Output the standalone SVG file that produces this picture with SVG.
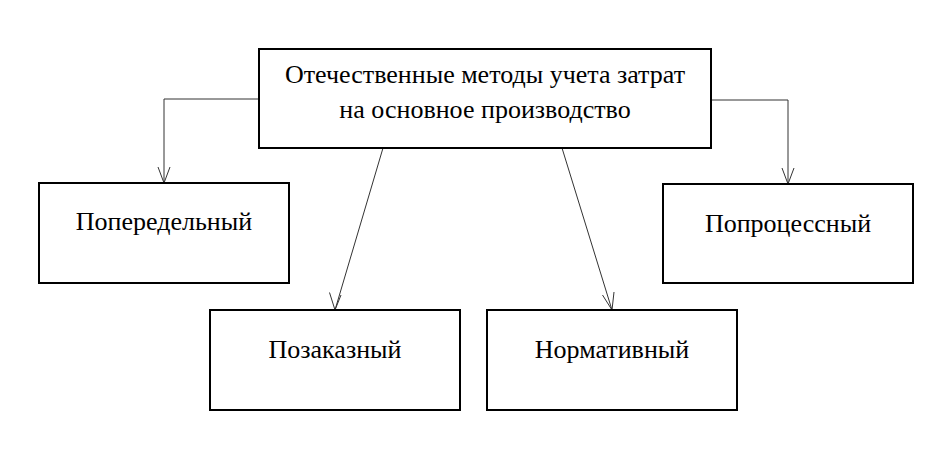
<svg xmlns="http://www.w3.org/2000/svg" width="950" height="450" viewBox="0 0 950 450">
<style>
.box{fill:#fff;stroke:#000;stroke-width:2}
.t{font-family:'Liberation Serif','Times New Roman',serif;font-size:26px;fill:#000;text-anchor:middle}
.c{fill:none;stroke:#333;stroke-width:1}
</style>
<rect width="950" height="450" fill="#fff"/>
<g id="connectors">
<path class="c" d="M259,99 H164 V183"/>
<path class="c" d="M158,167 L164,183 L170,167"/>
<path class="c" d="M711,100 H788 V184"/>
<path class="c" d="M782,168 L788,184 L794,168"/>
<line class="c" x1="383" y1="148" x2="335" y2="310"/>
<path class="c" d="M329.5,292.5 L335,310 L341,295"/>
<line class="c" x1="562" y1="148" x2="612" y2="310"/>
<path class="c" d="M602.5,295 L612,310 L614,292"/>
</g>
<g id="main">
<rect class="box" x="259" y="49" width="452" height="99"/>
<text class="t" x="485" y="83">Отечественные методы учета затрат</text>
<text class="t" x="485" y="118">на основное производство</text>
</g>
<g id="n1">
<rect class="box" x="39" y="183" width="250" height="100"/>
<text class="t" x="164" y="230">Попередельный</text>
</g>
<g id="n2">
<rect class="box" x="210" y="310" width="250" height="100"/>
<text class="t" x="335" y="358">Позаказный</text>
</g>
<g id="n3">
<rect class="box" x="487" y="310" width="250" height="100"/>
<text class="t" x="612" y="358">Нормативный</text>
</g>
<g id="n4">
<rect class="box" x="663" y="184" width="250" height="99"/>
<text class="t" x="788" y="232">Попроцессный</text>
</g>
</svg>
